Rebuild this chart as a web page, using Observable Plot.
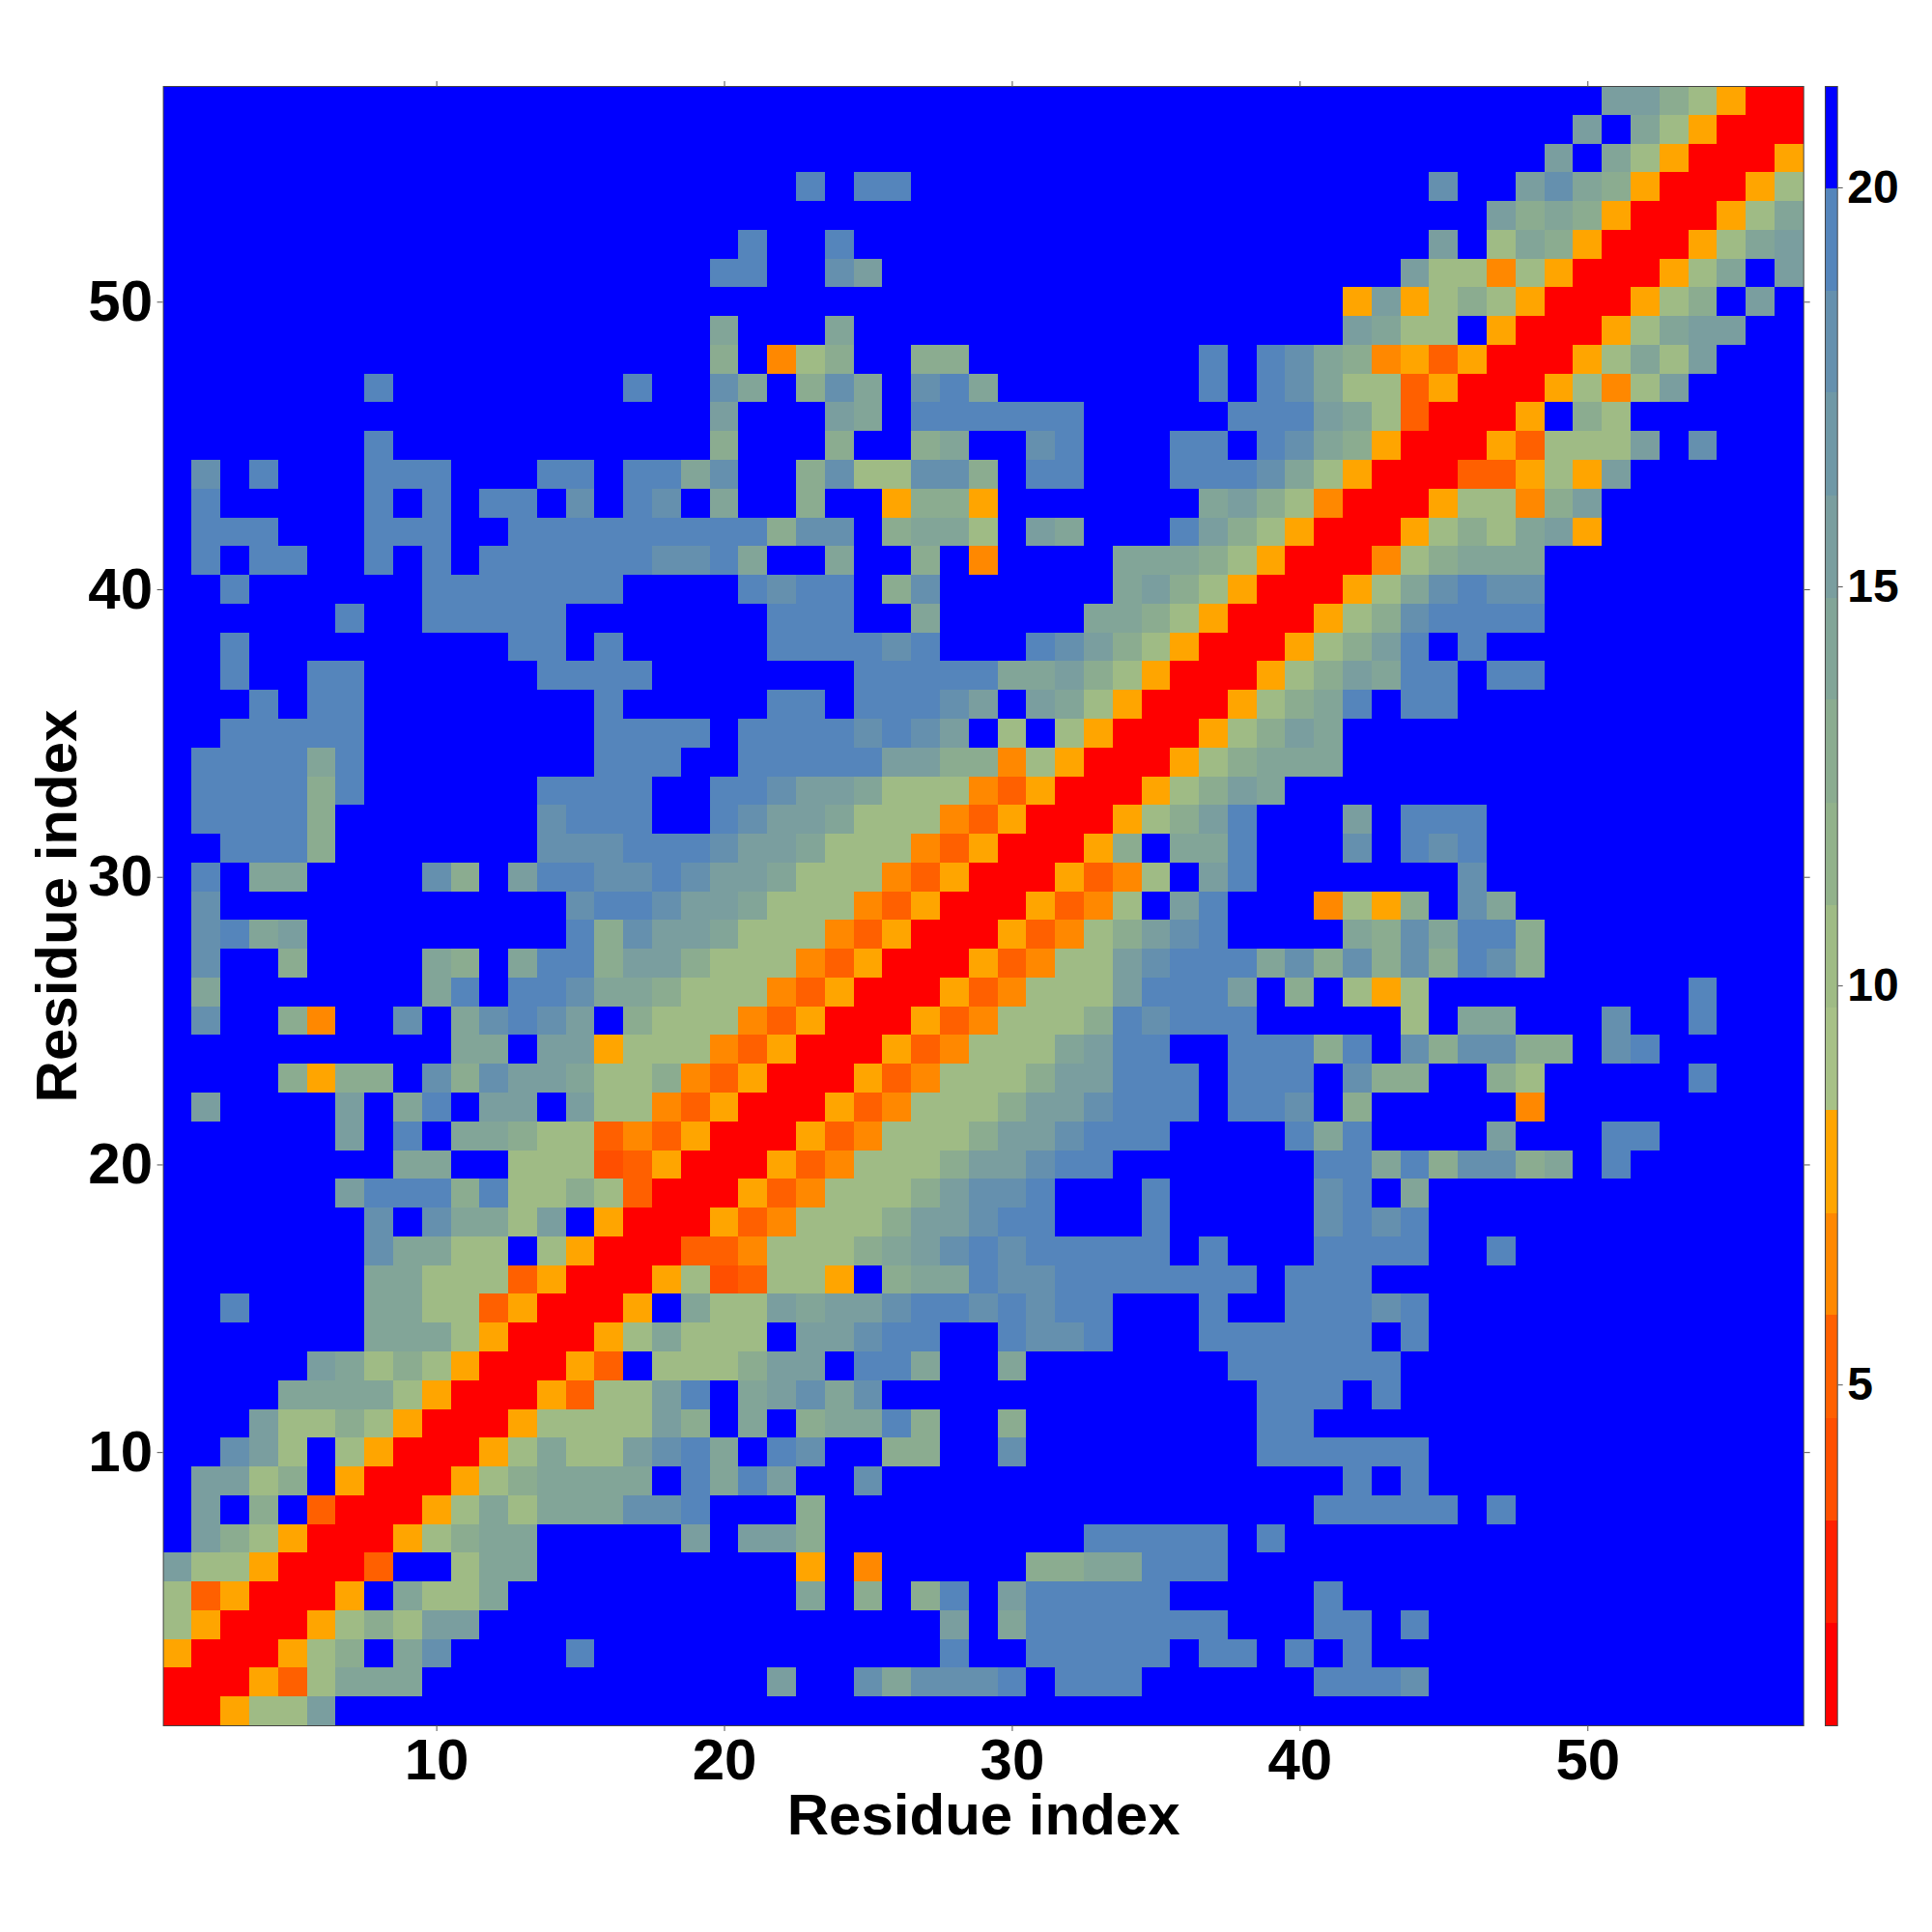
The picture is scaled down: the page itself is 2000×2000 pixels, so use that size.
<!DOCTYPE html>
<html>
<head>
<meta charset="utf-8">
<script src="https://cdn.jsdelivr.net/npm/d3@7"></script>
<script src="https://cdn.jsdelivr.net/npm/@observablehq/plot@0.6"></script>
<style>
html,body{margin:0;padding:0;background:#fff}
#wrap{position:relative;width:2000px;height:2000px}
#wrap svg{position:absolute;top:0;overflow:visible;background:transparent}
</style>
</head>
<body>
<div id="wrap"></div>
<script>
// Residue count per axis
const residues = 57;
// Colour-bar band edges (value units) and the colours of the 16 bands
const bandEdges = [0.73,2.01,3.30,4.58,5.87,7.15,8.44,9.72,11.01,12.29,13.58,14.86,16.14,17.43,18.71,19.99,21.27];
const bandColors = ["#ff0000","#ff2000","#ff4f00","#ff6000","#ff8800","#ffa500","#a7c187","#9fbb85","#92b28b","#8bac90","#82a598","#7a9e9f","#6f98a6","#6590ae","#5585bb","#0000ff"];
// Value of each letter used in the runs below
const letterValues = {R:1.4,A:3.9,B:5.2,C:6.5,D:7.8,g:10.4,h:12.9,i:14.2,j:15.5,k:18.1,l:19.4,".":20.6};
// Non-background cells, as [residue y, first residue x, letters]
const runs = [
[57,51,"jjhgDRR"],
[56,50,"j.igDRRR"],
[55,49,"j.igDRRRD"],
[54,23,"l.ll"],[54,45,"k"],[54,48,"jkihDRRRDg"],
[53,47,"jhihDRRRDgi"],
[52,21,"l"],[52,24,"l"],[52,45,"j.gihDRRRDgij"],
[51,20,"ll"],[51,24,"kj"],[51,44,"jggCgDRRRDgi.j"],
[50,42,"DjDghgDRRRDgh.j."],
[49,20,"i"],[49,24,"i"],[49,42,"jigg.DRRRDgijj"],
[48,20,"h.Cgh"],[48,27,"hh"],[48,37,"l.lkihCDBDRRRDgigj"],
[47,8,"l"],[47,17,"l"],[47,20,"ki.hki"],[47,27,"kli"],[47,37,"l.lkiggBDRRRDgCgj"],
[46,20,"j"],[46,24,"ji"],[46,27,"llllll"],[46,38,"llljigBRRRD.hg"],
[45,8,"l"],[45,20,"h"],[45,24,"h"],[45,27,"hi"],[45,31,"kl"],[45,36,"ll.lkihDRRRDBgggj.k"],
[44,2,"k.l"],[44,8,"lll"],[44,14,"ll"],[44,17,"llik"],[44,23,"hkggkkh"],[44,31,"ll"],[44,36,"lllkigDRRRBBDgDj"],
[43,2,"l"],[43,8,"l.l"],[43,12,"ll.k"],[43,17,"lk.i"],[43,23,"h"],[43,26,"DhhD"],[43,37,"ijhgCRRRDggChj"],
[42,2,"lll"],[42,8,"lll"],[42,13,"lllllllll"],[42,22,"hkk.hiig"],[42,31,"ji"],[42,36,"ljhgDRRRDghgijD"],
[41,2,"l.ll"],[41,8,"l.l"],[41,12,"llllll"],[41,18,"kkli"],[41,24,"i"],[41,27,"h"],[41,29,"C"],[41,34,"iiihgDRRRCghiii"],
[40,3,"l"],[40,10,"lllllll"],[40,21,"lkll"],[40,26,"hk"],[40,34,"ijhgDRRRDgiklkk"],
[39,7,"l"],[39,10,"lllll"],[39,22,"lll"],[39,27,"i"],[39,33,"iihgDRRRDghkllll"],
[38,3,"l"],[38,13,"ll"],[38,16,"l"],[38,22,"llllkl"],[38,31,"lkjhgDRRRDghjl.l"],
[37,3,"l"],[37,6,"ll"],[37,14,"llll"],[37,25,"lllll"],[37,30,"iijhgDRRRDghji"],[37,44,"ll"],[37,47,"ll"],
[36,4,"l"],[36,6,"ll"],[36,16,"l"],[36,22,"ll"],[36,25,"lllkj"],[36,31,"jigDRRRDghil"],[36,44,"ll"],
[35,3,"lllll"],[35,16,"llll"],[35,21,"llllklkj.g.gD"],[35,34,"RRRDghji"],
[34,2,"llllil"],[34,16,"lll"],[34,21,"llllljjhhCgDRRRDghiii"],
[33,2,"llllhl"],[33,14,"llll"],[33,20,"llkjjigggCBDRRRDghji"],
[32,2,"llllh"],[32,14,"klll"],[32,20,"lkjjigggCBDRRRDghjl"],[32,42,"j"],[32,44,"lll"],
[31,3,"lllh"],[31,14,"kkklllk"],[31,21,"jjigggCBDRRRDh.iil"],[31,42,"k"],[31,44,"lkl"],
[30,2,"l.ii"],[30,10,"kh.jllkklkjjigggCBDRRRDBCg.jl"],[30,46,"k"],
[29,2,"k"],[29,15,"kllkjjigggCBDRRRDBCg.jl"],[29,41,"CgDh.ki"],
[28,2,"klij"],[28,15,"lhkjjigggCBDRRRDBCghjkl"],[28,42,"ihkillh"],
[27,2,"k"],[27,5,"h"],[27,10,"ih.illhjjhgggCBDRRRDBCggjklllikhkhkhlkh"],
[26,2,"i"],[26,10,"il.llkiihgggCBDRRRDBCgggjlllj.h.gDg"],[26,54,"l"],
[25,2,"k"],[25,5,"hC"],[25,9,"k.iklkj.hgggCBDRRRDBCggghlklll"],[25,44,"g"],[25,46,"ii"],[25,51,"k"],[25,54,"l"],
[24,11,"ii.jjDgggCBDRRRDBCgggijll"],[24,38,"lllhl.khkkhh"],[24,51,"kl"],
[23,5,"hDhh.khkjjigghCBDRRRDBCggghjjlll"],[23,38,"lll.khh"],[23,47,"hg"],[23,54,"l"],
[22,2,"j"],[22,7,"j.il.jj.jggCBDRRRDBCggghjjklll"],[22,38,"llk.h"],[22,48,"C"],
[21,7,"j.l.iihggBCBDRRRDBCggghjjklll"],[21,40,"lil"],[21,47,"j"],[21,51,"ll"],
[20,9,"ii..gggABDRRRDBCggghjjkll"],[20,41,"llilhkkhi"],[20,51,"l"],
[19,7,"jlllhlgghgBRRRDBCggghjkkl"],[19,35,"l"],[19,41,"kl.i"],
[18,8,"k.kiigj.DRRRDBCggghjjkll"],[18,35,"l"],[18,41,"klkl"],
[17,8,"kiigg.gDRRRBBCggghijklklllll"],[17,37,"l"],[17,41,"llll"],[17,47,"l"],
[16,8,"iigggBDRRRDgABggD.hiilkklllllll"],[16,40,"lll"],
[15,3,"l"],[15,8,"iiggBDRRRD.iggjijjkllklkll"],[15,37,"l"],[15,40,"lllkl"],
[14,8,"iiigDRRRDgiggg.jjkll"],[14,30,"lkkl"],[14,37,"llllll.l"],
[13,6,"jighgDRRRDB.ggghjj.lli"],[13,30,"i"],[13,38,"llllll"],
[12,5,"iiiigDRRRDBggjl.ijkik"],[12,39,"lll.l"],
[11,4,"jgghgDRRRDggggjh.i.hiilh"],[11,30,"h"],[11,39,"ll"],
[10,3,"kjg.gDRRRDgiggjkli.lk"],[10,26,"hh"],[10,30,"k"],[10,39,"llllll"],
[9,2,"jjgh.DRRRDghiiii.lilj"],[9,25,"k"],[9,42,"l.l"],
[8,2,"j.h.BRRRDgigiiikkl"],[8,23,"h"],[8,41,"lllll"],[8,47,"l"],
[7,2,"jhgDRRRDghii"],[7,19,"j"],[7,21,"jjh"],[7,33,"lllll"],[7,39,"l"],
[6,1,"jggDRRRB..gii"],[6,23,"D"],[6,25,"C"],[6,31,"hhiilll"],
[5,1,"gBDRRRD.iggi"],[5,23,"i"],[5,25,"h"],[5,27,"hl"],[5,30,"jlllll"],[5,41,"l"],
[4,1,"gDRRRDghgjj"],[4,28,"j"],[4,30,"illlllll"],[4,41,"ll"],[4,44,"l"],
[3,1,"DRRRDgh.ik"],[3,15,"l"],[3,28,"l"],[3,31,"lllll"],[3,37,"ll"],[3,40,"l"],[3,42,"l"],
[2,1,"RRRDBgiii"],[2,22,"j"],[2,25,"kikkkl"],[2,32,"lll"],[2,41,"lllk"],
[1,1,"RRDggj"]
];
// Tick labels
const mainTicks = [10,20,30,40,50];
const barTicks = [5,10,15,20];
const axisTitle = "Residue index";

// Table of all cells
const values = new Map();
for (const [y, x0, letters] of runs) {
  [...letters].forEach((ch, i) => values.set(`${x0 + i},${y}`, letterValues[ch]));
}
const cells = [];
for (let y = 1; y <= residues; y++) for (let x = 1; x <= residues; x++) {
  cells.push({x, y, v: values.get(`${x},${y}`) ?? letterValues["."]});
}
const bands = bandColors.map((c, i) => ({lo: bandEdges[i], hi: bandEdges[i + 1], c}));

const font = {fontFamily: "'Liberation Sans', Arial, sans-serif", background: "transparent"};
const tickStroke = "#555";

const main = Plot.plot({
  width: 2000, height: 2000,
  marginLeft: 168.6, marginRight: 133.3, marginTop: 89, marginBottom: 214,
  style: font,
  x: {domain: [0.5, residues + 0.5], axis: null},
  y: {domain: [0.5, residues + 0.5], axis: null},
  color: {type: "threshold", domain: bandEdges.slice(1, -1), range: bandColors},
  marks: [
    Plot.rect(cells, {
      x1: d => d.x - 0.5, x2: d => d.x + 0.5,
      y1: d => d.y - 0.5, y2: d => d.y + 0.5,
      fill: "v", shapeRendering: "crispEdges"
    }),
    Plot.frame({stroke: "#444", strokeWidth: 1}),
    Plot.axisX(mainTicks, {anchor: "bottom", label: null, tickSize: 6, tickPadding: 7, fontSize: 60, fontWeight: "bold", stroke: tickStroke, fill: "#000", strokeWidth: 1}),
    Plot.axisX(mainTicks, {anchor: "top", label: null, tickSize: 6, tickFormat: () => "", stroke: tickStroke, strokeWidth: 1}),
    Plot.axisY(mainTicks, {anchor: "left", label: null, tickSize: 6, tickPadding: 5, fontSize: 60, fontWeight: "bold", stroke: tickStroke, fill: "#000", strokeWidth: 1}),
    Plot.axisY(mainTicks, {anchor: "right", label: null, tickSize: 6, tickFormat: () => "", stroke: tickStroke, strokeWidth: 1}),
    Plot.text([axisTitle], {frameAnchor: "bottom", lineAnchor: "bottom", dy: 112, fontSize: 60, fontWeight: "bold", fill: "#000"}),
    Plot.text([axisTitle], {frameAnchor: "left", textAnchor: "middle", lineAnchor: "bottom", rotate: -90, dx: -90, fontSize: 60, fontWeight: "bold", fill: "#000"})
  ]
});
main.style.left = "0px";

const bar = Plot.plot({
  width: 111, height: 2000,
  marginLeft: 0, marginRight: 98.3, marginTop: 89, marginBottom: 214,
  style: font,
  x: {domain: [0, 1], axis: null},
  y: {domain: [bandEdges[0], bandEdges[bandEdges.length - 1]], axis: null},
  marks: [
    Plot.rect(bands, {x1: 0, x2: 1, y1: "lo", y2: "hi", fill: "c", shapeRendering: "crispEdges"}),
    Plot.frame({stroke: "#444", strokeWidth: 1}),
    Plot.axisY(barTicks, {anchor: "right", label: null, tickSize: 5, tickPadding: 5, tickFormat: "d", fontSize: 48, fontWeight: "bold", stroke: tickStroke, fill: "#000", strokeWidth: 1})
  ]
});
bar.style.left = "1889px";

const wrap = document.getElementById("wrap");
wrap.append(main, bar);
</script>
</body>
</html>
